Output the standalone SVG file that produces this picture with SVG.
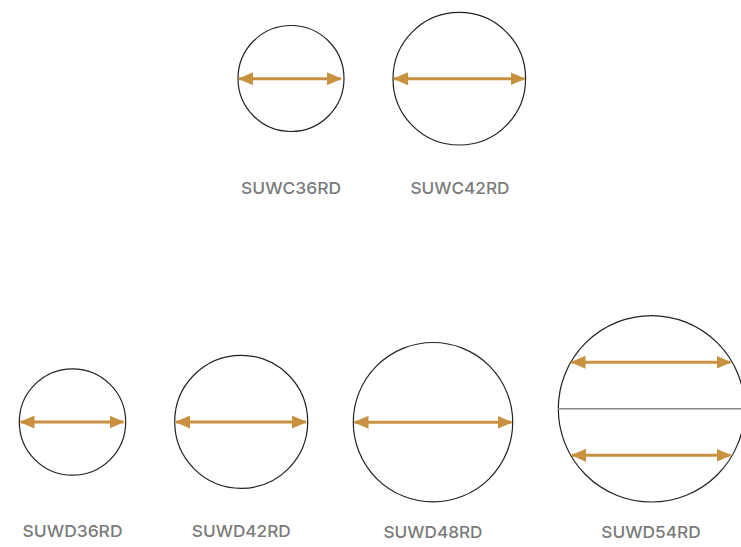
<svg xmlns="http://www.w3.org/2000/svg" width="741" height="547" viewBox="0 0 741 547">
<defs>
<style>
.c{fill:none;stroke:#222;stroke-width:1.2}
.a{stroke:#c8913f;stroke-width:3;fill:none;marker-start:url(#h);marker-end:url(#h)}
.t{font-family:Inter,"Liberation Sans",Arial,sans-serif;font-size:16.5px;font-weight:500;fill:#7a7a7a;text-anchor:middle}
</style>
<marker id="h" viewBox="0 0 15 13" refX="14" refY="6.5" markerWidth="15" markerHeight="13" markerUnits="userSpaceOnUse" orient="auto-start-reverse">
<path d="M0,0 L15,6.5 L0,13 Z" fill="#c8913f"/>
</marker>
</defs>
<rect width="741" height="547" fill="#fff"/>
<g id="suwc36rd">
<circle class="c" cx="291" cy="78.5" r="53"/>
<text class="t" x="291" y="194" textLength="100" lengthAdjust="spacingAndGlyphs">SUWC36RD</text>
</g>
<g id="suwc42rd">
<circle class="c" cx="459.3" cy="78.7" r="66.3"/>
<text class="t" x="460" y="194" textLength="99" lengthAdjust="spacingAndGlyphs">SUWC42RD</text>
</g>
<g id="suwd36rd">
<circle class="c" cx="72.5" cy="422" r="53.2"/>
<text class="t" x="72.5" y="537" textLength="100" lengthAdjust="spacingAndGlyphs">SUWD36RD</text>
</g>
<g id="suwd42rd">
<circle class="c" cx="241.2" cy="421.8" r="66.5"/>
<text class="t" x="241.3" y="537" textLength="99" lengthAdjust="spacingAndGlyphs">SUWD42RD</text>
</g>
<g id="suwd48rd">
<circle class="c" cx="433" cy="422.2" r="79.7"/>
<text class="t" x="433" y="537.5" textLength="99" lengthAdjust="spacingAndGlyphs">SUWD48RD</text>
</g>
<g id="suwd54rd">
<circle class="c" cx="651.5" cy="408.8" r="93.2"/>
<line x1="558" y1="408.7" x2="741" y2="408.7" stroke="#888" stroke-width="1.5"/>
<text class="t" x="651" y="537.5" textLength="99.5" lengthAdjust="spacingAndGlyphs">SUWD54RD</text>
</g>
<g id="connectors">
<line class="a" x1="239" y1="78.7" x2="341" y2="78.7"/>
<line class="a" x1="394" y1="78.7" x2="524.5" y2="78.7"/>
<line class="a" x1="20.5" y1="422" x2="123.5" y2="422"/>
<line class="a" x1="176" y1="422" x2="306" y2="422"/>
<line class="a" x1="354.5" y1="422.3" x2="511.5" y2="422.3"/>
<line class="a" x1="571.5" y1="362.3" x2="730.5" y2="362.3"/>
<line class="a" x1="572" y1="455.3" x2="730.5" y2="455.3"/>
</g>
</svg>
